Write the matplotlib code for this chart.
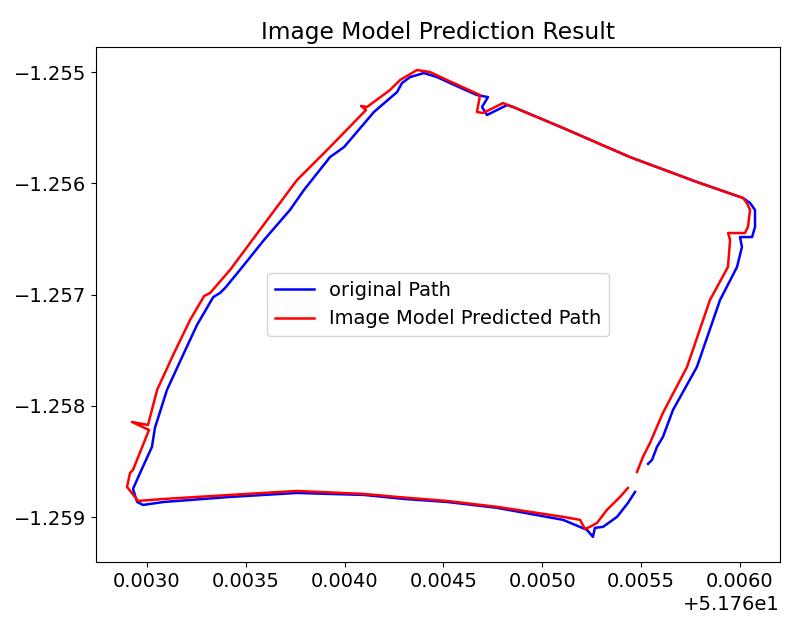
#Image model path prediction plot

import numpy as np
import matplotlib
matplotlib.use('Agg')
import matplotlib.pyplot as plt

#Longitude base (axis offset) and path points.

lon_base = 51.76

orig_lon = [0.005535, 0.005555, 0.005580, 0.005610, 0.005661, 0.005782, 0.005899,
            0.005985, 0.006010, 0.006000, 0.006061, 0.006076, 0.006076, 0.006051,
            0.006015, 0.005782, 0.005443, 0.005105, 0.004852, 0.004821, 0.004720,
            0.004695, 0.004725, 0.004669, 0.004533, 0.004467, 0.004401, 0.004331,
            0.004290, 0.004265, 0.004148, 0.003997, 0.003926, 0.003794, 0.003723,
            0.003592, 0.003470, 0.003395, 0.003369, 0.003335, 0.003253, 0.003187,
            0.003101, 0.003040, 0.003025, 0.002965, 0.002929, 0.002950, 0.002980,
            0.003086, 0.003420, 0.003759, 0.004098, 0.004300, 0.004518, 0.004771,
            0.005105, 0.005226, 0.005256, 0.005266, 0.005307, 0.005378, 0.005433,
            0.005469]
orig_lat = [-1.258522, -1.258486, -1.258369, -1.258280, -1.258037, -1.257651, -1.257049,
            -1.256752, -1.256572, -1.256483, -1.256483, -1.256393, -1.256240, -1.256177,
            -1.256132, -1.255988, -1.255764, -1.255503, -1.255314, -1.255297, -1.255386,
            -1.255314, -1.255225, -1.255207, -1.255099, -1.255045, -1.255009, -1.255045,
            -1.255099, -1.255180, -1.255359, -1.255674, -1.255764, -1.256060, -1.256240,
            -1.256509, -1.256779, -1.256941, -1.256986, -1.257023, -1.257273, -1.257525,
            -1.257857, -1.258199, -1.258369, -1.258603, -1.258747, -1.258864, -1.258891,
            -1.258864, -1.258819, -1.258783, -1.258801, -1.258837, -1.258864, -1.258917,
            -1.259025, -1.259115, -1.259178, -1.259097, -1.259088, -1.258998, -1.258873,
            -1.258774]

pred_lon = [0.005479, 0.005509, 0.005545, 0.005610, 0.005732, 0.005848, 0.005939,
            0.005950, 0.005940, 0.006025, 0.006040, 0.006051, 0.006035, 0.006015,
            0.005782, 0.005443, 0.005105, 0.004852, 0.004801, 0.004700, 0.004669,
            0.004685, 0.004518, 0.004432, 0.004366, 0.004280, 0.004229, 0.004113,
            0.004083, 0.004108, 0.003911, 0.003759, 0.003420, 0.003319, 0.003289,
            0.003218, 0.003137, 0.003051, 0.003005, 0.002924, 0.003010, 0.002990,
            0.002929, 0.002914, 0.002899, 0.002955, 0.003086, 0.003420, 0.003759,
            0.004098, 0.004265, 0.004518, 0.004771, 0.005105, 0.005191, 0.005215,
            0.005241, 0.005277, 0.005327, 0.005393, 0.005433]
pred_lat = [-1.258594, -1.258459, -1.258333, -1.258064, -1.257651, -1.257049, -1.256752,
            -1.256509, -1.256447, -1.256447, -1.256393, -1.256240, -1.256177, -1.256132,
            -1.255988, -1.255764, -1.255503, -1.255314, -1.255279, -1.255368, -1.255359,
            -1.255207, -1.255072, -1.255000, -1.254982, -1.255072, -1.255162, -1.255314,
            -1.255305, -1.255341, -1.255701, -1.255970, -1.256779, -1.256986, -1.257013,
            -1.257228, -1.257525, -1.257857, -1.258172, -1.258145, -1.258217, -1.258306,
            -1.258576, -1.258603, -1.258729, -1.258855, -1.258837, -1.258801, -1.258765,
            -1.258792, -1.258819, -1.258855, -1.258908, -1.258998, -1.259025, -1.259106,
            -1.259088, -1.259052, -1.258935, -1.258819, -1.258738]

#Plotting

plt.rcParams['font.size'] = 14

fig = plt.figure(figsize=(7.87, 6.17), dpi=100)
ax = fig.add_axes([0.122, 0.0891, 0.869, 0.8347])

ax.plot(lon_base + np.array(orig_lon), orig_lat, color='blue', linewidth=1.8, label='original Path')
ax.plot(lon_base + np.array(pred_lon), pred_lat, color='red', linewidth=1.8, label='Image Model Predicted Path')

ax.set_xlim(lon_base + 0.002742, lon_base + 0.006202)
ax.set_ylim(-1.259404, -1.254775)
ax.set_title('Image Model Prediction Result')
ax.legend(loc='center')

fig.savefig('out.png', dpi=100)
